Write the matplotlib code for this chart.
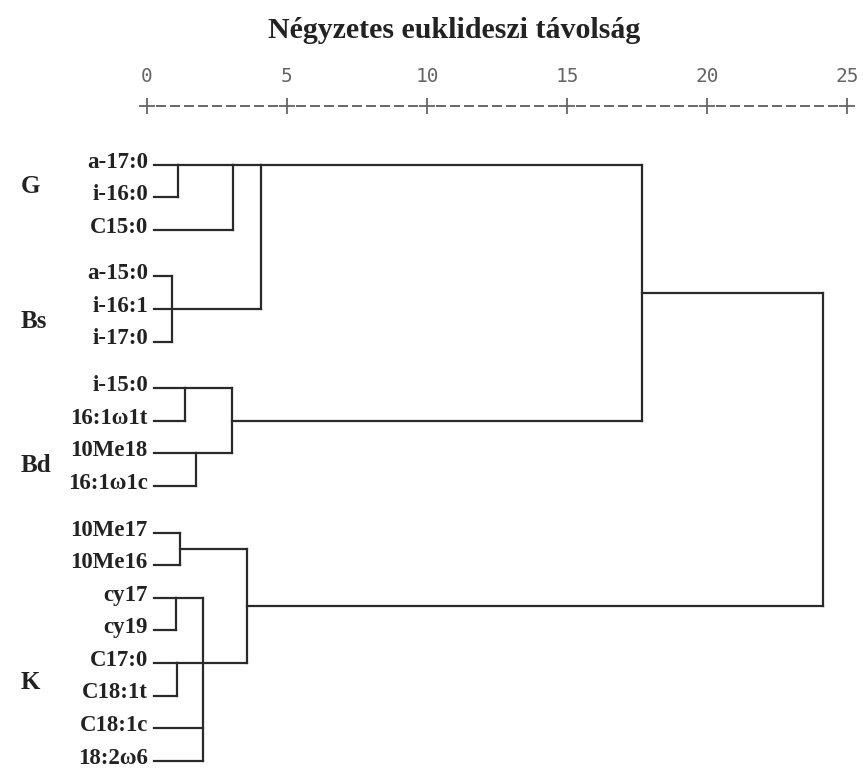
import matplotlib.pyplot as plt
import numpy as np

# leaves top to bottom, with their group
leaves = ["a-17:0", "i-16:0", "C15:0",
          "a-15:0", "i-16:1", "i-17:0",
          "i-15:0", "16:1ω1t", "10Me18", "16:1ω1c",
          "10Me17", "10Me16", "cy17", "cy19", "C17:0", "C18:1t", "C18:1c", "18:2ω6"]
leaf_group = [0, 0, 0, 1, 1, 1, 2, 2, 2, 2, 3, 3, 3, 3, 3, 3, 3, 3]
groups = ["G", "Bs", "Bd", "K"]

# merges, scipy style numbering: leaves 0..17, merge k -> node 18+k
# (children, distance, child the line goes on from / "mid")
merges = [
    ([0, 1], 1.1, 0),            # 18
    ([18, 2], 3.07, 0),          # 19
    ([3, 4, 5], 0.9, "mid"),     # 20
    ([19, 20], 4.07, 0),         # 21
    ([6, 7], 1.36, 0),           # 22
    ([8, 9], 1.75, 0),           # 23
    ([22, 23], 3.04, "mid"),     # 24
    ([21, 24], 17.68, "mid"),    # 25
    ([10, 11], 1.18, "mid"),     # 26
    ([12, 13], 1.04, 0),         # 27
    ([14, 15], 1.07, 0),         # 28
    ([27, 28, 16, 17], 2.0, 1),  # 29
    ([26, 29], 3.57, "mid"),     # 30
    ([25, 30], 24.14, "mid"),    # 31
]

ticks = [0, 5, 10, 15, 20, 25]
title = "Négyzetes euklideszi távolság"

# layout (y in pixels from the top)
top, pitch, gap = 164.5, 32.6, 14
y_leaf = [top + pitch * i + gap * g for i, g in enumerate(leaf_group)]
group_row = [0.68, 1.4, 2.38, 4.6]   # where the group letter sits within its rows
stem0 = 0.25
lc = "#2a2a2a"
axc = "#666666"
serif = "Liberation Serif"

fig = plt.figure(figsize=(8.63, 7.69), dpi=100)
ax = fig.add_axes([0, 0, 1, 1])
ax.set_xlim(-147 / 28, (863 - 147) / 28)
ax.set_ylim(769, 0)
ax.axis("off")

pos = {}
for i, y in enumerate(y_leaf):
    pos[i] = (stem0, y)
    ax.text(0.03, y + 3, leaves[i], ha="right", va="baseline", fontfamily=serif,
            fontweight="bold", fontsize=16.5, color="#222222")

n = len(leaves)
for k, (kids, h, anchor) in enumerate(merges):
    ys = [pos[c][1] for c in kids]
    for c in kids:
        ax.plot([pos[c][0], h], [pos[c][1], pos[c][1]], color=lc, lw=1.6,
                solid_capstyle="projecting")
    ax.plot([h, h], [min(ys), max(ys)], color=lc, lw=1.6, solid_capstyle="projecting")
    if anchor == "mid":
        y_new = (min(ys) + max(ys)) / 2
    else:
        y_new = ys[anchor]
    pos[n + k] = (h, y_new)

# group letters
for g, name in enumerate(groups):
    rows = [y for y, gg in zip(y_leaf, leaf_group) if gg == g]
    y = rows[0] + pitch * group_row[g]
    ax.text(-4.5, y, name, ha="left", va="center", fontfamily=serif,
            fontweight="bold", fontsize=18, color="#222222")

# axis drawn like text: numbers and +-----+ row
for t in ticks:
    ax.text(t, 77, str(t), ha="center", va="center", fontfamily="DejaVu Sans Mono",
            fontsize=14, color=axc)
ax.plot(ticks, [106] * len(ticks), "+", color=axc, ms=11, mew=1.3)
for a, b in zip(ticks[:-1], ticks[1:]):
    step = (b - a) / 10
    for j in range(1, 10):
        xc = a + j * step
        ax.plot([xc - step * 0.3, xc + step * 0.3], [106, 106], color=axc, lw=1.4)

fig.text(454 / 863, 1 - 30 / 769, title, ha="center", va="center", fontfamily=serif,
         fontweight="bold", fontsize=21.5, color="#222222")

fig.savefig("out.png", dpi=100)
